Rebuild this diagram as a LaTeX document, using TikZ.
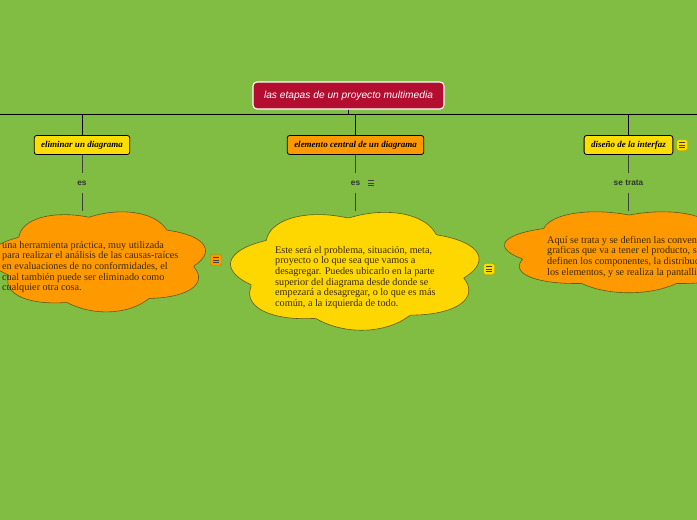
\documentclass[tikz,border=0pt]{standalone}
\usepackage{fontspec}
\setmainfont{Liberation Serif}
\setsansfont{Liberation Sans}
\usepackage{tikz}
\usetikzlibrary{positioning}
\definecolor{fondo}{HTML}{80BD42}
\definecolor{rojo}{HTML}{B30E2F}
\definecolor{amarillo}{HTML}{FFDD00}
\definecolor{oro}{HTML}{FFD700}
\definecolor{naranja}{HTML}{FF9900}
\definecolor{borde}{HTML}{5E5A1E}
\definecolor{tinta}{HTML}{3A2900}

% nube: centro x, centro y, radio x, radio y, puffs, fase
\newcommand{\nubeplot}[7]{%
  \draw[nube, fill=#7] plot[domain=0:360, samples=241, variable=\t]
    ({#1+#3*cos(\t)*(1+0.16*abs(sin(#5*(\t-#6)/2)))},
     {#2+#4*sin(\t)*(1+0.16*abs(sin(#5*(\t-#6)/2)))}) -- cycle;}

\tikzset{
  raiz/.style={draw=white, line width=1.1pt, fill=rojo, rounded corners=4pt,
    minimum width=191pt, minimum height=27pt, text=white,
    font=\sffamily\itshape\fontsize{10.2}{12}\selectfont},
  caja/.style={draw=black, line width=0.8pt, rounded corners=2.5pt,
    minimum height=19pt, inner xsep=7pt,
    font=\bfseries\itshape\fontsize{9}{10}\selectfont},
  enlace/.style={minimum height=20pt, inner sep=0pt, text=black!80,
    font=\sffamily\bfseries\fontsize{8.3}{9}\selectfont},
  nube/.style={draw=borde, line width=0.6pt},
  texto/.style={inner sep=0pt, align=left, anchor=north west, text=tinta,
    font=\fontsize{10.2}{10.6}\selectfont},
  linea/.style={draw=black!75, line width=0.6pt},
  nota/.pic={
    \path[rounded corners=1.5pt, pic actions] (-5.5,-5.5) rectangle (5.5,5.5);
    \draw[black!75, line width=0.9pt] (-3,-2.8) -- (3,-2.8)
      (-3,0) -- (3,0) (-3,2.8) -- (3,2.8);
  }
}

\begin{document}
\begin{tikzpicture}[x=1pt, y=-1pt]
  % Fondo
  \fill[fondo] (0,0) rectangle (697,520);
  \useasboundingbox (0,0) rectangle (697,520);

  % Raiz
  \node[raiz] (etapas) at (348.5,95.5) {las etapas de un proyecto multimedia};
  \coordinate (izq) at (0,114);
  \coordinate (der) at (697,114);
  \draw[black, line width=0.8pt] (izq) -- (der);
  \draw[black, line width=0.8pt] (etapas.south) -- (etapas.south |- izq);

  % Ramas
  \node[caja, fill=amarillo] (eliminar) at (82,145) {eliminar un diagrama};
  \node[caja, fill=naranja] (central) at (355.5,145) {elemento central de un diagrama};
  \node[caja, fill=amarillo] (diseno) at (628.5,145) {diseño de la interfaz};
  \foreach \r in {eliminar, central, diseno}
    \draw[black, line width=0.8pt] (\r.north |- izq) -- (\r.north);

  % Enlaces
  \node[enlace] (es1) at (82,183) {es};
  \node[enlace] (es2) at (355.5,183) {es};
  \node[enlace] (trata) at (628.5,183) {se trata};

  % Nubes
  \nubeplot{99}{261}{95}{44}{7}{264}{naranja}
  \nubeplot{356}{270}{109}{52}{7}{266}{oro}
  \nubeplot{629}{251}{109}{36}{7}{270}{naranja}
  \coordinate (topeA) at (82,211);
  \coordinate (topeB) at (355.5,211);
  \coordinate (topeC) at (628.5,211);

  \draw[linea] (eliminar) -- (es1) -- (topeA);
  \draw[linea] (central) -- (es2) -- (topeB);
  \draw[linea] (diseno) -- (trata) -- (topeC);

  % Textos
  \node[texto] (txtA) at (2,241) {una herramienta práctica, muy utilizada\\
    para realizar el análisis de las causas-raíces\\
    en evaluaciones de no conformidades, el\\
    cual también puede ser eliminado como\\
    cualquier otra cosa.};
  \node[texto] (txtB) at (275,246) {Este será el problema, situación, meta,\\
    proyecto o lo que sea que vamos a\\
    desagregar. Puedes ubicarlo en la parte\\
    superior del diagrama desde donde se\\
    empezará a desagregar, o lo que es más\\
    común, a la izquierda de todo.};
  \node[texto] (txtC) at (547,236) {Aquí se trata y se definen las convenciones\\
    graficas que va a tener el producto, se\\
    definen los componentes, la distribución de\\
    los elementos, y se realiza la pantallización.};

  % Notas
  \pic[fill=amarillo, draw=oro!70!black] at (682,145) {nota};
  \pic at (371,183) {nota};
  \pic[fill=naranja, draw=naranja!80!black] at (216,260) {nota};
  \pic[fill=amarillo, draw=oro!70!black] at (489,269) {nota};
\end{tikzpicture}
\end{document}
